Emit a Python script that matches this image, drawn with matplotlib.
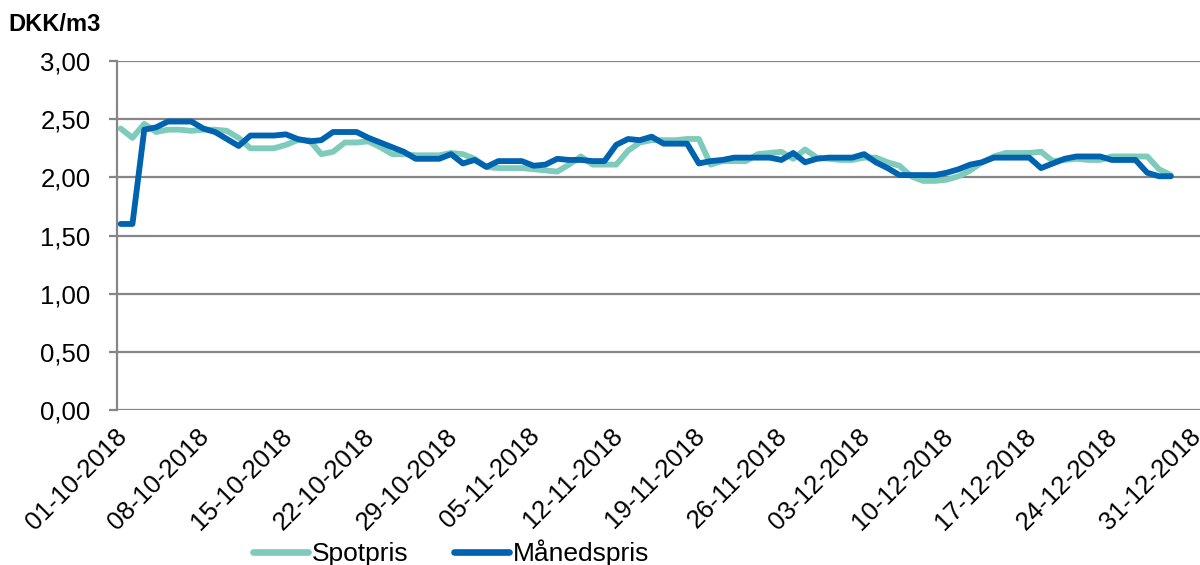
import matplotlib
matplotlib.use("Agg")
import matplotlib.pyplot as plt
import matplotlib.transforms as mtransforms
from matplotlib.ticker import FuncFormatter, FixedLocator
import pandas as pd

plt.rcParams['font.family'] = ['Liberation Sans', 'DejaVu Sans']

start_date = "2018-10-01"
tick_dates = pd.date_range("2018-10-01", "2018-12-31", freq="7D")

spotpris = [
    2.42, 2.34, 2.46, 2.39, 2.41, 2.41, 2.40, 2.41, 2.41, 2.40,
    2.34, 2.25, 2.25, 2.25, 2.28, 2.32, 2.32, 2.20, 2.22, 2.30,
    2.30, 2.31, 2.26, 2.20, 2.20, 2.19, 2.19, 2.19, 2.21, 2.20,
    2.16, 2.09, 2.08, 2.08, 2.08, 2.07, 2.06, 2.05, 2.11, 2.18,
    2.11, 2.11, 2.11, 2.23, 2.30, 2.32, 2.32, 2.32, 2.33, 2.33,
    2.11, 2.14, 2.14, 2.14, 2.20, 2.21, 2.22, 2.16, 2.24, 2.17,
    2.16, 2.15, 2.15, 2.17, 2.17, 2.13, 2.10, 2.01, 1.97, 1.97,
    1.98, 2.01, 2.06, 2.13, 2.18, 2.21, 2.21, 2.21, 2.22, 2.14,
    2.15, 2.16, 2.15, 2.15, 2.18, 2.18, 2.18, 2.18, 2.07, 2.02,
]
maanedspris = [
    1.60, 1.60, 2.41, 2.43, 2.48, 2.48, 2.48, 2.42, 2.39, 2.33,
    2.27, 2.36, 2.36, 2.36, 2.37, 2.33, 2.31, 2.32, 2.39, 2.39,
    2.39, 2.34, 2.30, 2.26, 2.22, 2.16, 2.16, 2.16, 2.20, 2.12,
    2.15, 2.09, 2.14, 2.14, 2.14, 2.10, 2.11, 2.16, 2.15, 2.15,
    2.14, 2.14, 2.28, 2.33, 2.32, 2.35, 2.29, 2.29, 2.29, 2.12,
    2.14, 2.15, 2.17, 2.17, 2.17, 2.17, 2.15, 2.21, 2.13, 2.16,
    2.17, 2.17, 2.17, 2.20, 2.13, 2.08, 2.02, 2.02, 2.02, 2.02,
    2.04, 2.07, 2.11, 2.13, 2.17, 2.17, 2.17, 2.17, 2.08, 2.12,
    2.16, 2.18, 2.18, 2.18, 2.15, 2.15, 2.15, 2.04, 2.01, 2.01,
]
series_names = ["Spotpris", "Månedspris"]
y_ticks = [0.0, 0.5, 1.0, 1.5, 2.0, 2.5, 3.0]
y_label = "DKK/m3"

dates = pd.date_range(start_date, periods=len(spotpris), freq="D")
t0 = pd.Timestamp(start_date)
days = [(d - t0).days for d in dates]
tick_pos = [(d - t0).days for d in tick_dates]
tick_labels = [d.strftime("%d-%m-%Y") for d in tick_dates]

fig = plt.figure(figsize=(12, 5.65), dpi=100)
ax = fig.add_axes([0.0975, 0.274, 0.9025, 0.618])

grid_col = "#868686"
ax.plot(days, spotpris, color="#7ECBBC", lw=4.2, label=series_names[0],
        solid_joinstyle="round", solid_capstyle="round", zorder=3)
ax.plot(days, maanedspris, color="#0063B0", lw=4.2, label=series_names[1],
        solid_joinstyle="round", solid_capstyle="round", zorder=4)

ax.set_ylim(0, 3)
ax.set_xlim(-0.31, 91.47)
ax.yaxis.set_major_locator(FixedLocator(y_ticks))
ax.yaxis.set_major_formatter(FuncFormatter(lambda v, p: f"{v:.2f}".replace(".", ",")))
ax.grid(axis="y", color=grid_col, lw=1.6)
ax.set_axisbelow(True)
for s in ["top", "right", "bottom"]:
    ax.spines[s].set_visible(False)
ax.spines["left"].set_color(grid_col)
ax.spines["left"].set_linewidth(1.6)
ax.tick_params(axis="y", length=6, width=1.6, color=grid_col, pad=13,
               labelsize=18.5, labelcolor="black")

ax.set_xticks(tick_pos)
ax.set_xticklabels(tick_labels, rotation=45, ha="right", va="top",
                   rotation_mode="anchor", fontsize=18.5)
ax.tick_params(axis="x", length=0, pad=10)
offset = mtransforms.ScaledTranslation(-6 / 100, 0, fig.dpi_scale_trans)
for lbl in ax.get_xticklabels():
    lbl.set_transform(lbl.get_transform() + offset)

fig.text(0.007, 0.956, y_label, fontsize=17, fontweight="bold", ha="left", va="center")

leg = fig.legend(loc="center", bbox_to_anchor=(0.376, 0.022), ncol=2, frameon=False,
                 fontsize=19, handlelength=2.1, handletextpad=0.15, columnspacing=1.7,
                 borderaxespad=0)
for h in leg.get_lines():
    h.set_linewidth(4.8)

fig.savefig("out.png", dpi=100)
